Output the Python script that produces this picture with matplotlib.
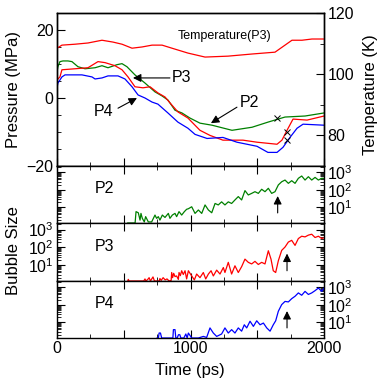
import matplotlib
matplotlib.use("Agg")
import matplotlib.pyplot as plt
from matplotlib.ticker import MultipleLocator, FuncFormatter, LogLocator, NullFormatter

plt.rcParams['font.family'] = ['Liberation Sans', 'DejaVu Sans']
plt.rcParams['mathtext.fontset'] = 'custom'
plt.rcParams['mathtext.rm'] = 'Liberation Sans'
plt.rcParams['axes.linewidth'] = 1.0

# pressure curves (ps, MPa)
t_p2 = [0, 7, 22, 45, 82, 112, 157, 210, 285, 337, 382, 449, 487, 524, 584, 659, 734, 787,
        831, 884, 936, 996, 1071, 1161, 1311, 1461, 1580, 1708, 1858, 2000]
p_p2 = [7.7, 9.2, 10.7, 10.9, 10.9, 10.7, 9.2, 8.6, 8.9, 9.5, 8.9, 9.8, 10.1, 9.2, 6.8, 4.4,
        1.8, 0.6, -0.6, -3.6, -4.4, -5.9, -7.4, -8.0, -9.5, -8.6, -7.1, -5.6, -5.3, -4.4]

t_p3 = [0, 22, 37, 135, 232, 307, 360, 434, 487, 532, 584, 644, 697, 756, 809, 861, 906,
        981, 1071, 1146, 1243, 1393, 1498, 1648, 1685, 1723, 1768, 1873, 2000]
p_p3 = [5.3, 6.2, 8.3, 8.6, 8.9, 10.7, 10.4, 9.5, 8.3, 6.2, 3.3, 3.0, 3.3, 1.5, 0.3, -2.1,
        -4.1, -5.9, -9.5, -11.0, -12.4, -12.4, -13.0, -13.6, -12.4, -9.5, -6.2, -6.5, -5.3]

t_p4 = [0, 7, 37, 60, 187, 262, 285, 337, 382, 457, 509, 562, 607, 659, 712, 756, 831, 906,
        981, 1034, 1124, 1243, 1348, 1498, 1580, 1648, 1693, 1745, 1798, 1843, 2000]
p_p4 = [3.0, 4.4, 6.2, 6.8, 6.8, 6.2, 5.6, 5.9, 6.5, 6.5, 5.6, 3.3, 0.9, 0.0, -1.2, -1.8,
        -4.4, -7.1, -8.9, -10.7, -11.9, -11.6, -13.0, -14.2, -16.0, -16.0, -14.5, -11.6,
        -8.9, -7.7, -8.0]

# temperature at P3 (K)
t_temp = [0, 37, 135, 232, 337, 419, 487, 562, 637, 712, 787, 861, 981, 1109, 1281, 1461,
          1633, 1708, 1760, 1835, 1910, 2000]
temp = [108.5, 109.5, 109.8, 110.2, 111.1, 110.5, 109.8, 108.5, 108.9, 109.5, 109.5, 108.5,
        106.9, 105.6, 105.9, 106.6, 107.2, 109.5, 111.1, 111.1, 111.5, 111.5]

# bubble sizes
t_b2 = [530, 585, 592, 609, 622, 629, 639, 654, 664, 684, 709, 734, 746, 759, 771, 789, 809,
        834, 846, 864, 884, 896, 914, 934, 954, 971, 984, 1009, 1034, 1059, 1084, 1109, 1134,
        1159, 1184, 1208, 1233, 1258, 1283, 1308, 1333, 1358, 1383, 1408, 1433, 1458, 1483,
        1508, 1533, 1558, 1583, 1608, 1633, 1658, 1683, 1708, 1733, 1758, 1783, 1808, 1833,
        1858, 1883, 1908, 1933, 1958, 1983, 2000]
b2 = [1.3, 1.3, 5.8, 5.0, 1.9, 4.6, 2.4, 1.5, 3.0, 1.5, 1.5, 3.7, 2.4, 3.0, 1.9, 3.7, 2.7,
      4.6, 2.4, 3.7, 4.6, 3.0, 5.8, 3.7, 5.8, 7.9, 8.5, 11, 4.6, 7.2, 4.6, 14, 7.2, 5.0, 17,
      14, 21, 14, 21, 17, 27, 42, 27, 92, 52, 64, 80, 64, 110, 80, 125, 64, 80, 195, 295, 370,
      240, 340, 240, 465, 630, 370, 575, 370, 525, 370, 465, 465]

t_b3 = [530, 534, 540, 650, 659, 666, 680, 690, 700, 719, 730, 765, 771, 780, 795, 810, 824,
        840, 855, 859, 866, 874, 884, 896, 909, 914, 924, 934, 946, 959, 971, 984, 1009, 1029,
        1046, 1071, 1096, 1114, 1134, 1154, 1171, 1196, 1221, 1246, 1258, 1283, 1308, 1333,
        1358, 1383, 1408, 1433, 1458, 1483, 1508, 1533, 1558, 1583, 1603, 1620, 1638, 1658,
        1683, 1708, 1733, 1758, 1783, 1808, 1833, 1858, 1883, 1908, 1933, 1958, 1983, 2000]
b3 = [1.3, 1.6, 1.3, 1.3, 1.7, 1.3, 1.6, 2.0, 1.3, 2.2, 1.3, 1.3, 1.8, 1.4, 2.0, 1.5, 1.7,
      1.3, 1.4, 3.9, 2.0, 3.5, 2.3, 2.5, 1.6, 3.9, 2.6, 4.9, 3.0, 4.9, 1.7, 4.9, 2.5, 1.5,
      3.2, 2.0, 3.9, 1.7, 3.2, 4.9, 2.5, 5.3, 3.2, 7.4, 3.9, 14.5, 3.2, 9.3, 3.9, 8.3, 22,
      14.5, 11.8, 16.5, 11, 14.5, 11.8, 65, 22, 4.9, 3.9, 18, 68, 105, 200, 250, 130, 315,
      425, 390, 490, 550, 360, 425, 315, 350]

t_b4 = [750, 759, 765, 775, 784, 868, 872, 884, 890, 900, 910, 920, 928, 950, 965, 975, 984,
        1009, 1059, 1096, 1121, 1146, 1171, 1196, 1233, 1258, 1283, 1308, 1333, 1358, 1383,
        1403, 1421, 1446, 1471, 1496, 1521, 1546, 1571, 1596, 1620, 1638, 1658, 1683, 1708,
        1733, 1758, 1783, 1808, 1833, 1858, 1883, 1908, 1933, 1958, 1983, 2000]
b4 = [1.3, 1.3, 2.5, 2.5, 1.3, 1.3, 3.9, 3.9, 1.3, 1.3, 2.0, 2.0, 1.3, 1.3, 2.2, 1.3, 2.5,
      1.3, 1.3, 1.6, 1.4, 4.9, 2.5, 1.6, 2.2, 4.9, 2.5, 3.9, 2.5, 4.9, 3.2, 7.4, 4.9, 11.8,
      6.0, 12.5, 7.4, 9.3, 4.9, 3.2, 7.4, 12.5, 44, 105, 160, 150, 230, 315, 490, 360, 600,
      400, 490, 660, 930, 600, 900]

GREEN, RED, BLUE = '#008000', '#ff0000', '#0000ff'
L, W = 57 / 386, 267 / 386
LW = 0.9


def time_axis(a):
    a.set_xlim(0, 2000)
    a.xaxis.set_major_locator(MultipleLocator(500))
    a.xaxis.set_minor_locator(MultipleLocator(250))
    a.xaxis.set_major_formatter(FuncFormatter(lambda v, p: '%d' % v if v % 1000 == 0 else ''))


fig = plt.figure(figsize=(3.86, 3.84), dpi=100)

# top panel: pressure + temperature
ax = fig.add_axes([L, 1 - 166 / 384, W, 153 / 384])
time_axis(ax)
ax.plot(t_p2, p_p2, color=GREEN, lw=LW)
ax.plot(t_p3, p_p3, color=RED, lw=LW)
ax.plot(t_p4, p_p4, color=BLUE, lw=LW)
ax.plot([1648, 1723, 1723], [-5.9, -10.1, -12.4], 'kx', ms=5, mew=0.7)
ax.set_ylim(-20, 25)
ax.yaxis.set_major_locator(MultipleLocator(20))
ax.yaxis.set_minor_locator(MultipleLocator(5))
ax.tick_params(which='both', direction='in', top=False, right=False, labelbottom=False,
               labelsize=11.5, pad=2.5)
ax.tick_params(which='major', length=6)
ax.tick_params(which='minor', length=3)

axT = ax.twinx()
axT.plot(t_temp, temp, color=RED, lw=LW)
axT.set_ylim(70, 120)
axT.yaxis.set_major_locator(MultipleLocator(20))
axT.yaxis.set_minor_locator(MultipleLocator(10))
axT.tick_params(which='both', direction='in', labelsize=11.5, pad=2.5)
axT.tick_params(which='major', length=6)
axT.tick_params(which='minor', length=3)

arrow = dict(arrowstyle='-|>', color='k', lw=0.8, mutation_scale=12, shrinkA=0, shrinkB=0)
ax.annotate('', xy=(569, 5.9), xytext=(846, 5.9), arrowprops=arrow)
ax.text(861, 5.9, 'P3', fontsize=11.5, va='center', ha='left')
ax.annotate('', xy=(599, 0.0), xytext=(457, -3.0), arrowprops=arrow)
ax.text(425, -4.1, 'P4', fontsize=11.5, va='center', ha='right')
ax.annotate('', xy=(1153, -7.4), xytext=(1348, -2.7), arrowprops=arrow)
ax.text(1371, -1.2, 'P2', fontsize=11.5, va='center', ha='left')
ax.text(906, 18.1, 'Temperature(P3)', fontsize=9, va='center', ha='left')

# bubble panels
panels = [(166, 57, t_b2, b2, GREEN, 'P2', 'right', 1653),
          (223, 58, t_b3, b3, RED, 'P3', 'left', 1723),
          (281, 57, t_b4, b4, BLUE, 'P4', 'right', 1723)]
for i, (top, h, tb, vb, col, name, side, t_arrow) in enumerate(panels):
    b = fig.add_axes([L, 1 - (top + h) / 384, W, h / 384])
    time_axis(b)
    b.plot(tb, vb, color=col, lw=LW)
    b.set_yscale('log')
    b.set_ylim(1.3, 2350)
    b.yaxis.set_major_locator(LogLocator(base=10))
    b.yaxis.set_minor_locator(LogLocator(base=10, subs=range(2, 10)))
    b.yaxis.set_minor_formatter(NullFormatter())
    b.tick_params(which='both', direction='in', top=True, right=True, labelsize=11.5, pad=2.5,
                  labelleft=(side == 'left'), labelright=(side == 'right'),
                  labelbottom=(i == 2))
    b.tick_params(which='major', length=6)
    b.tick_params(which='minor', length=3)
    b.annotate('', xy=(t_arrow, 45), xytext=(t_arrow, 4.9), arrowprops=arrow)
    b.text(0.142, 0.6, name, transform=b.transAxes, fontsize=11.5, va='center', ha='left')

fig.text(14 / 386, 1 - 89 / 384, 'Pressure (MPa)', rotation=90, fontsize=12,
         ha='center', va='center')
fig.text(371 / 386, 1 - 95 / 384, 'Temperature (K)', rotation=90, fontsize=12,
         ha='center', va='center')
fig.text(14 / 386, 1 - 251 / 384, 'Bubble Size', rotation=90, fontsize=12,
         ha='center', va='center')
fig.text(190 / 386, 1 - 370 / 384, 'Time (ps)', fontsize=12, ha='center', va='center')

fig.savefig('out.png', dpi=100)
